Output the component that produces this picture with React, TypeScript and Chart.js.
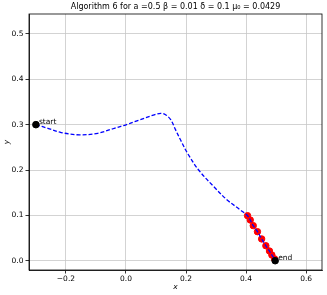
import React, { useEffect, useRef } from "react";
import { Chart, registerables } from "chart.js";
Chart.register(...registerables);

const pathX = [-0.3, -0.26, -0.216, -0.155, -0.094, -0.039, 0.0, 0.039, 0.094, 0.116, 0.132, 0.149, 0.165, 0.182, 0.205, 0.242, 0.293, 0.337, 0.381, 0.405, 0.414, 0.424, 0.438, 0.452, 0.466, 0.478, 0.486, 0.495, 0.497];
const pathY = [0.3, 0.292, 0.2826, 0.2775, 0.281, 0.292, 0.2996, 0.309, 0.3216, 0.325, 0.322, 0.311, 0.289, 0.266, 0.237, 0.2, 0.163, 0.134, 0.112, 0.0993, 0.0898, 0.0773, 0.064, 0.048, 0.033, 0.0214, 0.0126, 0.004, 0.0];
const redX = [0.405, 0.414, 0.424, 0.438, 0.452, 0.466, 0.478, 0.486, 0.495];
const redY = [0.0993, 0.0898, 0.0773, 0.064, 0.048, 0.033, 0.0214, 0.0126, 0.004];
const endpointsX = [-0.3, 0.497];
const endpointsY = [0.3, 0.0];
const endpointLabels = ["start", "end"];
const xTicks = [-0.2, 0.0, 0.2, 0.4, 0.6];
const yTicks = [0.0, 0.1, 0.2, 0.3, 0.4, 0.5];
const titleText = "Algorithm 6 for a =0.5 β = 0.01 δ = 0.1 μ₀ = 0.0429";

const FONT = "DejaVu Sans";

export default function App() {
  const ref = useRef<HTMLCanvasElement | null>(null);
  useEffect(() => {
    document.body.style.margin = "0";
    const canvas = ref.current!;
    const overlay = {
      id: "overlay",
      afterDraw(chart: any) {
        const ctx = chart.ctx;
        const a = chart.chartArea;
        const xs = chart.scales.x;
        const ys = chart.scales.y;
        ctx.save();
        ctx.strokeStyle = "#000";
        ctx.lineWidth = 0.8;
        ctx.strokeRect(a.left, a.top, a.right - a.left, a.bottom - a.top);
        ctx.fillStyle = "#000";
        ctx.font = `8px "${FONT}"`;
        ctx.textAlign = "center";
        ctx.textBaseline = "middle";
        ctx.fillText(titleText, (a.left + a.right) / 2, 7);
        ctx.font = `italic 7.5px "${FONT}"`;
        ctx.fillText("x", (a.left + a.right) / 2, 287);
        ctx.save();
        ctx.translate(7, (a.top + a.bottom) / 2);
        ctx.rotate(-Math.PI / 2);
        ctx.fillText("y", 0, 0);
        ctx.restore();
        ctx.font = `7.5px "${FONT}"`;
        ctx.textAlign = "left";
        ctx.textBaseline = "alphabetic";
        for (let i = 0; i < endpointsX.length; i++) {
          const px = xs.getPixelForValue(endpointsX[i]);
          const py = ys.getPixelForValue(endpointsY[i]);
          ctx.fillText(endpointLabels[i], px + 3, py - 0.5);
        }
        ctx.restore();
      },
    };
    const fmt = (v: number) => v.toFixed(1).replace("-", "−");
    const chart = new Chart(canvas, {
      type: "scatter",
      data: {
        datasets: [
          {
            data: endpointsX.map((x, i) => ({ x, y: endpointsY[i] })),
            backgroundColor: "#000",
            borderColor: "#000",
            pointRadius: 3.3,
            order: 0,
          },
          {
            data: pathX.map((x, i) => ({ x, y: pathY[i] })),
            showLine: true,
            borderColor: "#0000ff",
            borderWidth: 1.3,
            borderDash: [4, 2],
            pointRadius: 0,
            tension: 0.35,
            order: 1,
          } as any,
          {
            data: redX.map((x, i) => ({ x, y: redY[i] })),
            backgroundColor: "#ff0000",
            borderColor: "#ff0000",
            pointRadius: 3.2,
            order: 2,
          },
        ],
      },
      options: {
        animation: false,
        responsive: false,
        devicePixelRatio: 1,
        layout: { padding: { left: 0, right: 4, top: 14, bottom: 0 } },
        plugins: { legend: { display: false }, title: { display: false }, tooltip: { enabled: false } },
        scales: {
          x: {
            type: "linear",
            min: -0.323,
            max: 0.653,
            afterBuildTicks: (s: any) => { s.ticks = xTicks.map((v) => ({ value: v })); },
            afterFit: (s: any) => { s.height = 25; },
            grid: { color: "#c8c8c8", lineWidth: 0.8, tickColor: "#000", tickLength: 3.5 },
            border: { color: "#000", width: 0.8 },
            ticks: { color: "#000", font: { family: FONT, size: 7.5 }, padding: 1, callback: (v: any) => fmt(Number(v)), maxRotation: 0 },
          },
          y: {
            type: "linear",
            min: -0.0205,
            max: 0.544,
            afterBuildTicks: (s: any) => { s.ticks = yTicks.map((v) => ({ value: v })); },
            afterFit: (s: any) => { s.width = 29; },
            grid: { color: "#c8c8c8", lineWidth: 0.8, tickColor: "#000", tickLength: 3.5 },
            border: { color: "#000", width: 0.8 },
            ticks: { color: "#000", font: { family: FONT, size: 7.5 }, padding: 2, callback: (v: any) => fmt(Number(v)) },
          },
        },
      },
      plugins: [overlay],
    });
    return () => chart.destroy();
  }, []);
  return (
    <div style={{ width: 327, height: 295, background: "#fff" }}>
      <canvas ref={ref} width={327} height={295} style={{ width: 327, height: 295 }} />
    </div>
  );
}
